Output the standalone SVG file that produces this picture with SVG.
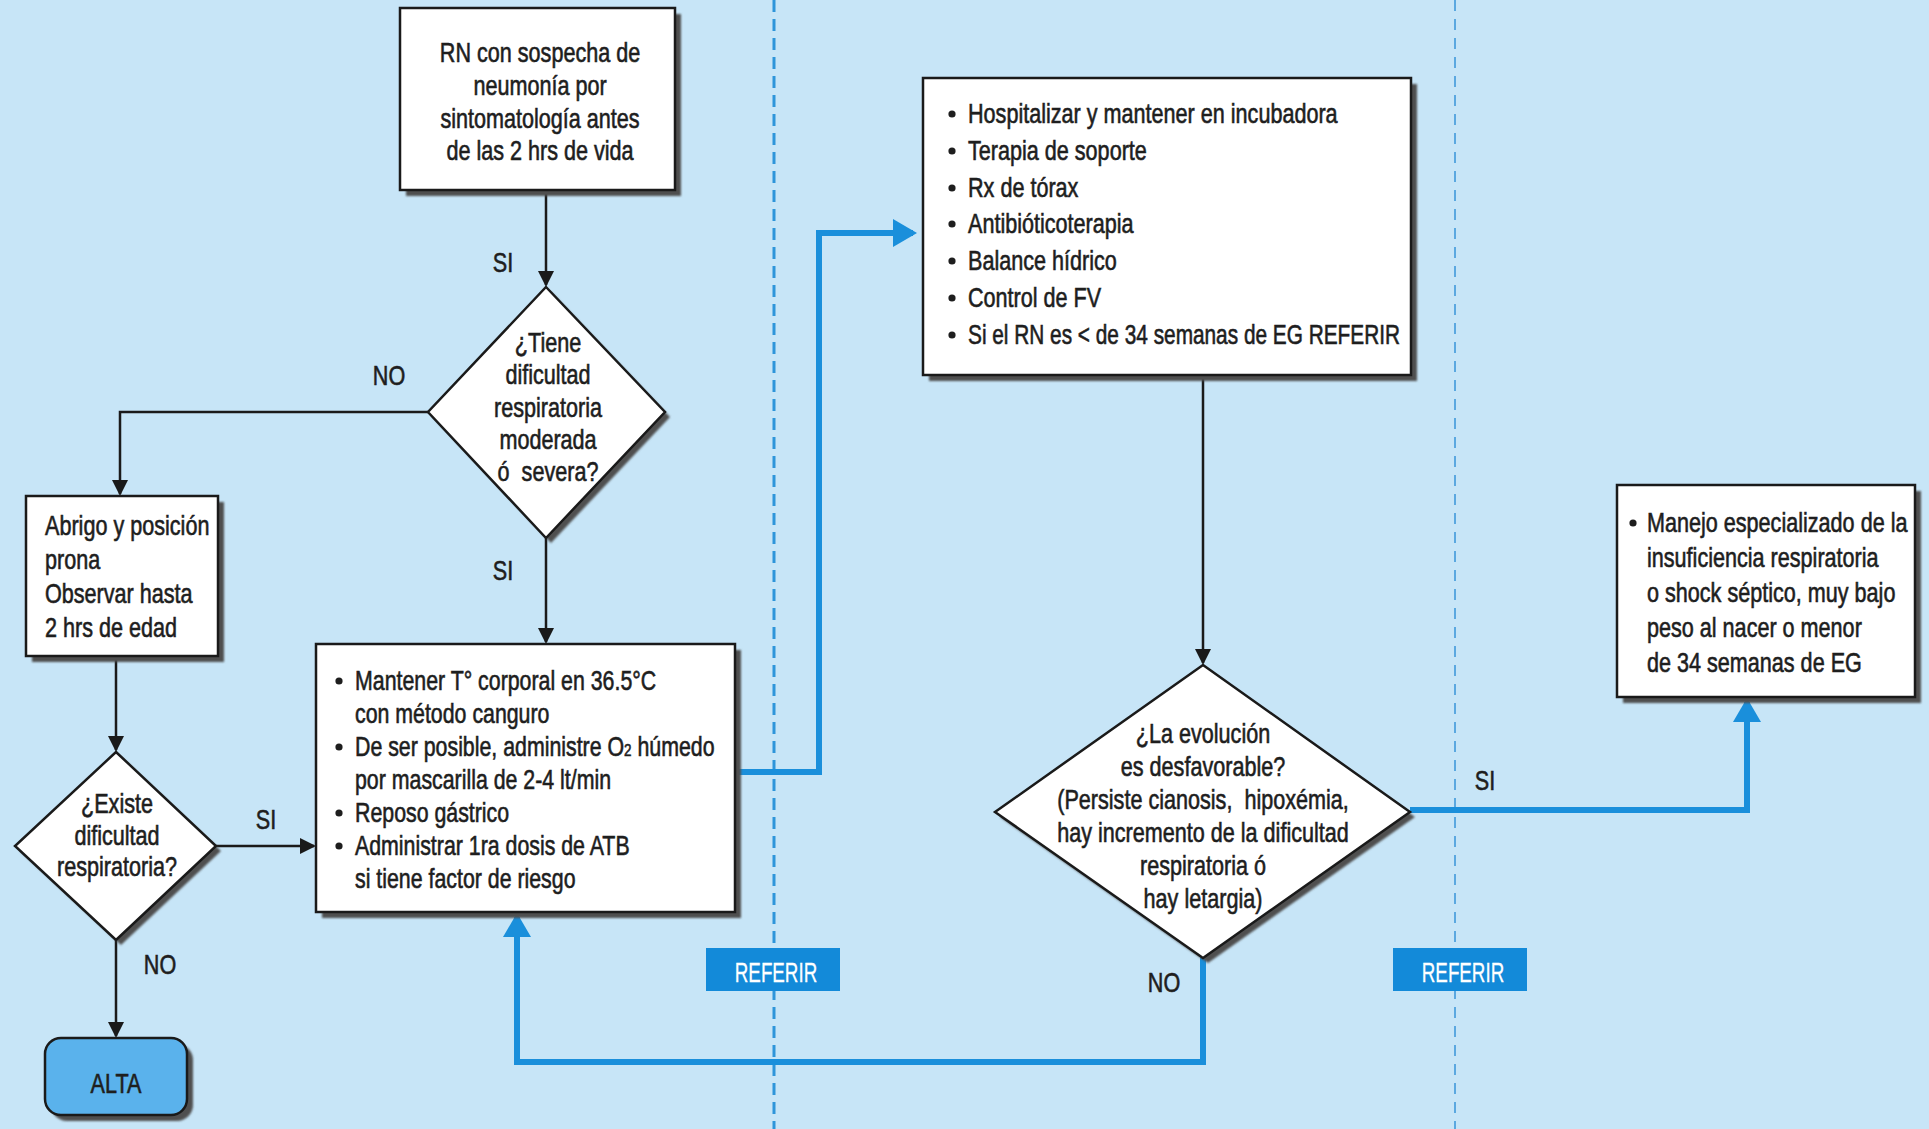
<svg xmlns="http://www.w3.org/2000/svg" width="1929" height="1129" viewBox="0 0 1929 1129">
<defs>
<filter id="blur" x="-5%" y="-5%" width="110%" height="110%"><feGaussianBlur stdDeviation="1.2"/></filter>
<marker id="ab" markerUnits="userSpaceOnUse" markerWidth="16" markerHeight="16" refX="14" refY="8" orient="auto"><path d="M0,0 L16,8 L0,16 z" fill="#1a1a1a"/></marker>
<marker id="au" markerUnits="userSpaceOnUse" markerWidth="24" markerHeight="28" refX="20" refY="14" orient="auto"><path d="M0,0 L24,14 L0,28 z" fill="#1A8FDB"/></marker>
</defs>
<style>
.t{font-family:"Liberation Sans",Arial,sans-serif;font-size:27px;fill:#1e1e1e;stroke:#1e1e1e;stroke-width:0.6px}
.c{text-anchor:middle}
.box{fill:#fff;stroke:#1a1a1a;stroke-width:2.5}
.sh{fill:#4f4f4f;filter:url(#blur)}
.blk{fill:none;stroke:#1a1a1a;stroke-width:2.5;marker-end:url(#ab)}
.blu{fill:none;stroke:#1A8FDB;stroke-width:6;marker-end:url(#au)}
.dot{fill:#1e1e1e}
.ref{fill:#138AD9}
.rt{fill:#fff;stroke:#fff;stroke-width:0.3px}
.dash1{stroke:#2E95DA;stroke-width:3;stroke-dasharray:12 7}
.dash2{stroke:#5BA8E0;stroke-width:2;stroke-dasharray:11 8}
</style>
<rect x="0" y="0" width="1929" height="1129" fill="#C7E5F7"/>
<line class="dash1" x1="774" y1="0" x2="774" y2="1129"/>
<line class="dash2" x1="1455" y1="0" x2="1455" y2="1129"/>

<g id="connectors">
<path class="blk" d="M546 190 V285"/>
<path class="blk" d="M428 412 H120 V494"/>
<path class="blk" d="M116 656 V750"/>
<path class="blk" d="M216 846 H314"/>
<path class="blk" d="M546 538 V642"/>
<path class="blk" d="M116 940 V1036"/>
<path class="blk" d="M1203 375 V663"/>
<path class="blu" d="M735 772 H819 V233 H913"/>
<path class="blu" d="M1203 958 V1062 H517 V917"/>
<path class="blu" d="M1410 810 H1747 V702"/>
<text class="t c" transform="translate(503 272) scale(0.8 1)">SI</text>
<text class="t c" transform="translate(389 385) scale(0.8 1)">NO</text>
<text class="t c" transform="translate(503 580) scale(0.8 1)">SI</text>
<text class="t c" transform="translate(266 829) scale(0.8 1)">SI</text>
<text class="t c" transform="translate(160 974) scale(0.8 1)">NO</text>
<text class="t c" transform="translate(1164 992) scale(0.8 1)">NO</text>
<text class="t c" transform="translate(1485 790) scale(0.8 1)">SI</text>
</g>

<g id="n-inicio">
<rect class="sh" x="406" y="14" width="275" height="182"/>
<rect class="box" x="400" y="8" width="275" height="182"/>
<text class="t c" transform="translate(540 62) scale(0.8 1)"><tspan x="0">RN con sospecha de</tspan><tspan x="0" dy="33">neumonía por</tspan><tspan x="0" dy="33">sintomatología antes</tspan><tspan x="0" dy="32">de las 2 hrs de vida</tspan></text>
</g>

<g id="n-dificultad-moderada">
<polygon class="sh" points="551,292 670,417 551,543 433,417"/>
<polygon class="box" points="546,287 665,412 546,538 428,412"/>
<text class="t c" transform="translate(548 352) scale(0.8 1)"><tspan x="0">¿Tiene</tspan><tspan x="0" dy="32">dificultad</tspan><tspan x="0" dy="33">respiratoria</tspan><tspan x="0" dy="32">moderada</tspan><tspan x="0" dy="32">ó&#160; severa?</tspan></text>
</g>

<g id="n-abrigo">
<rect class="sh" x="32" y="502" width="192" height="160"/>
<rect class="box" x="26" y="496" width="192" height="160"/>
<text class="t" transform="translate(45 535) scale(0.8 1)"><tspan x="0">Abrigo y posición</tspan><tspan x="0" dy="34">prona</tspan><tspan x="0" dy="34">Observar hasta</tspan><tspan x="0" dy="34">2 hrs de edad</tspan></text>
</g>

<g id="n-existe-dificultad">
<polygon class="sh" points="121,757 221,851 121,945 20,851"/>
<polygon class="box" points="116,752 216,846 116,940 15,846"/>
<text class="t c" transform="translate(117 813) scale(0.8 1)"><tspan x="0">¿Existe</tspan><tspan x="0" dy="32">dificultad</tspan><tspan x="0" dy="31">respiratoria?</tspan></text>
</g>

<g id="n-alta">
<rect class="sh" x="51" y="1044" width="142" height="77" rx="16"/>
<rect x="45" y="1038" width="142" height="77" rx="16" fill="#5AB2EC" stroke="#1a1a1a" stroke-width="2.5"/>
<text class="t c" transform="translate(116 1093) scale(0.8 1)">ALTA</text>
</g>

<g id="n-mantener">
<rect class="sh" x="322" y="650" width="419" height="268"/>
<rect class="box" x="316" y="644" width="419" height="268"/>
<circle class="dot" cx="339" cy="681" r="3.6"/>
<circle class="dot" cx="339" cy="747" r="3.6"/>
<circle class="dot" cx="339" cy="813" r="3.6"/>
<circle class="dot" cx="339" cy="846" r="3.6"/>
<text class="t" transform="translate(355 690) scale(0.79 1)"><tspan x="0">Mantener T° corporal en 36.5°C</tspan><tspan x="0" dy="33">con método canguro</tspan><tspan x="0" dy="33">De ser posible, administre O<tspan font-size="17">2</tspan> húmedo</tspan><tspan x="0" dy="33">por mascarilla de 2-4 lt/min</tspan><tspan x="0" dy="33">Reposo gástrico</tspan><tspan x="0" dy="33">Administrar 1ra dosis de ATB</tspan><tspan x="0" dy="33">si tiene factor de riesgo</tspan></text>
</g>

<g id="n-hospitalizar">
<rect class="sh" x="929" y="84" width="488" height="297"/>
<rect class="box" x="923" y="78" width="488" height="297"/>
<circle class="dot" cx="952" cy="114" r="3.6"/>
<circle class="dot" cx="952" cy="151" r="3.6"/>
<circle class="dot" cx="952" cy="188" r="3.6"/>
<circle class="dot" cx="952" cy="224" r="3.6"/>
<circle class="dot" cx="952" cy="261" r="3.6"/>
<circle class="dot" cx="952" cy="298" r="3.6"/>
<circle class="dot" cx="952" cy="335" r="3.6"/>
<text class="t" transform="translate(968 123) scale(0.8 1)"><tspan x="0">Hospitalizar y mantener en incubadora</tspan><tspan x="0" dy="37">Terapia de soporte</tspan><tspan x="0" dy="37">Rx de tórax</tspan><tspan x="0" dy="36">Antibióticoterapia</tspan><tspan x="0" dy="37">Balance hídrico</tspan><tspan x="0" dy="37">Control de FV</tspan></text>
<text class="t" transform="translate(968 344) scale(0.8 1)" textLength="540" lengthAdjust="spacingAndGlyphs">Si el RN es &lt; de 34 semanas de EG REFERIR</text>
</g>

<g id="n-evolucion">
<polygon class="sh" points="1208,670 1415,817 1208,963 1000,817"/>
<polygon class="box" points="1203,665 1410,812 1203,958 995,812"/>
<text class="t c" transform="translate(1203 743) scale(0.8 1)"><tspan x="0">¿La evolución</tspan><tspan x="0" dy="33">es desfavorable?</tspan><tspan x="0" dy="33">(Persiste cianosis,&#160; hipoxémia,</tspan><tspan x="0" dy="33">hay incremento de la dificultad</tspan><tspan x="0" dy="33">respiratoria ó</tspan><tspan x="0" dy="33">hay letargia)</tspan></text>
</g>

<g id="n-manejo">
<rect class="sh" x="1623" y="491" width="298" height="212"/>
<rect class="box" x="1617" y="485" width="298" height="212"/>
<circle class="dot" cx="1633" cy="523" r="3.6"/>
<text class="t" transform="translate(1647 532) scale(0.8 1)"><tspan x="0">Manejo especializado de la</tspan><tspan x="0" dy="35">insuficiencia respiratoria</tspan><tspan x="0" dy="35">o shock séptico, muy bajo</tspan><tspan x="0" dy="35">peso al nacer o menor</tspan><tspan x="0" dy="35">de 34 semanas de EG</tspan></text>
</g>

<g id="n-referir-1">
<rect class="ref" x="706" y="948" width="134" height="43"/>
<text class="t c rt" transform="translate(776 982) scale(0.8 1)" textLength="103" lengthAdjust="spacingAndGlyphs">REFERIR</text>
</g>

<g id="n-referir-2">
<rect class="ref" x="1393" y="948" width="134" height="43"/>
<text class="t c rt" transform="translate(1463 982) scale(0.8 1)" textLength="103" lengthAdjust="spacingAndGlyphs">REFERIR</text>
</g>
</svg>
